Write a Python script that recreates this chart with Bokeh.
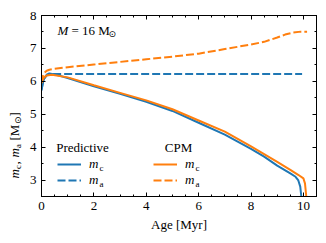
import math
from bokeh.plotting import figure
from bokeh.layouts import row
from bokeh.models import (LinearAxis, SingleIntervalTicker, Legend, LegendItem, Label, Range1d)
from bokeh.embed import file_html
from bokeh.resources import INLINE

# ---- data ----
t_pred_mc = [0.0, 0.05, 0.1, 0.2, 0.3, 0.5, 1.0, 2.0, 3.0, 4.0, 5.0, 6.0, 7.0, 8.0, 8.5, 9.0, 9.5, 9.7, 9.8, 9.88, 9.92]
pred_mc = [5.72, 5.95, 6.08, 6.2, 6.24, 6.21, 6.1, 5.85, 5.62, 5.38, 5.1, 4.74, 4.38, 3.95, 3.71, 3.44, 3.2, 3.1, 3.0, 2.8, 2.5]

t_pred_ma = [0.0, 0.05, 0.1, 0.2, 0.3, 0.4, 9.95]
pred_ma = [5.75, 5.95, 6.08, 6.18, 6.21, 6.22, 6.22]

t_cpm_mc = [0.0, 0.05, 0.1, 0.2, 0.4, 1.0, 2.0, 3.0, 4.0, 5.0, 6.0, 7.0, 8.0, 8.5, 9.0, 9.5, 9.8, 10.0, 10.06, 10.11]
cpm_mc = [5.95, 6.05, 6.12, 6.18, 6.2, 6.12, 5.88, 5.65, 5.42, 5.15, 4.81, 4.47, 4.02, 3.79, 3.55, 3.31, 3.16, 3.05, 2.9, 2.5]

t_cpm_ma = [0.0, 0.05, 0.1, 0.2, 0.3, 0.5, 1.0, 2.0, 3.0, 4.0, 5.0, 6.0, 7.0, 8.0, 8.5, 9.0, 9.3, 9.6, 9.9, 10.14]
cpm_ma = [5.95, 6.15, 6.25, 6.32, 6.35, 6.38, 6.43, 6.51, 6.59, 6.67, 6.75, 6.84, 6.98, 7.12, 7.2, 7.33, 7.42, 7.48, 7.51, 7.51]

x_ticks_interval = 2
y_ticks_interval = 1

BLUE = "#1f77b4"
ORANGE = "#ff7f0e"
FONT = "Liberation Serif"
FS = "13px"
SUB = "9px"

LW = 22  # width of the strip holding the y-axis label
TOP, BOTTOM = 15, 47

p = figure(width=326 - LW, height=243, x_range=Range1d(0, 10.5), y_range=Range1d(2.5, 8),
           output_backend="svg", toolbar_location=None,
           min_border_left=41 - LW, min_border_right=10, min_border_top=TOP, min_border_bottom=BOTTOM)
p.xgrid.visible = False
p.ygrid.visible = False
p.outline_line_color = "black"
p.background_fill_color = "white"

xt = SingleIntervalTicker(interval=x_ticks_interval, num_minor_ticks=4)
yt = SingleIntervalTicker(interval=y_ticks_interval, num_minor_ticks=2)

def style_axis(ax, labels=True):
    ax.axis_line_color = "black"
    ax.major_tick_in = 4
    ax.major_tick_out = 0
    ax.minor_tick_in = 2
    ax.minor_tick_out = 0
    ax.major_tick_line_color = "black"
    ax.minor_tick_line_color = "black"
    ax.major_label_text_font = FONT
    ax.major_label_text_color = "black"
    if labels:
        ax.major_label_text_font_size = FS
        ax.major_label_standoff = 5
    else:
        ax.major_label_text_font_size = "0px"
        ax.major_label_standoff = 0

p.xaxis.ticker = xt
p.yaxis.ticker = yt
style_axis(p.xaxis[0])
style_axis(p.yaxis[0])
p.xaxis.axis_label = "Age [Myr]"
p.xaxis.axis_label_text_font = FONT
p.xaxis.axis_label_text_font_style = "normal"
p.xaxis.axis_label_text_font_size = FS
p.xaxis.axis_label_text_color = "black"
p.xaxis.axis_label_standoff = 4

rax = LinearAxis(ticker=yt)
style_axis(rax, labels=False)
p.add_layout(rax, "right")
tax = LinearAxis(ticker=xt)
style_axis(tax, labels=False)
p.add_layout(tax, "above")

r1 = p.line(t_pred_mc, pred_mc, line_color=BLUE, line_width=2)
r2 = p.line(t_pred_ma, pred_ma, line_color=BLUE, line_width=2, line_dash="8 3")
r3 = p.line(t_cpm_mc, cpm_mc, line_color=ORANGE, line_width=2)
r4 = p.line(t_cpm_ma, cpm_ma, line_color=ORANGE, line_width=2, line_dash="8 3")

def make_legend(items, loc):
    return Legend(items=items, location=loc, orientation="vertical",
                  glyph_width=24, glyph_height=16, label_height=16, spacing=0, padding=0,
                  label_standoff=8, border_line_alpha=0, background_fill_alpha=0,
                  label_text_font=FONT, label_text_font_style="italic", label_text_font_size=FS,
                  label_text_color="black", margin=0)

p.add_layout(make_legend([LegendItem(label="m", renderers=[r1]), LegendItem(label="m", renderers=[r2])], (16, 8)))
p.add_layout(make_legend([LegendItem(label="m", renderers=[r3]), LegendItem(label="m", renderers=[r4])], (112, 8)))

def lab(fig, text, x, y, size=FS, style="normal", align="left", baseline="middle", angle=0.0, font=FONT):
    fig.add_layout(Label(x=x, y=y, x_units="screen", y_units="screen", text=text,
                         text_font=font, text_font_size=size, text_font_style=style,
                         text_align=align, text_baseline=baseline, angle=angle, text_color="black"))

# legend titles
lab(p, "Predictive", 41, 49, align="center")
lab(p, "CPM", 137, 49, align="center")
# legend subscripts (legend labels start at x = loc + 24 + 8)
for x0 in (16 + 32, 112 + 32):
    lab(p, "c", x0 + 10, 29, size=SUB)
    lab(p, "a", x0 + 10, 13, size=SUB)

# annotation M = 16 M_sun
lab(p, "M", 16, 166, style="italic")
lab(p, "= 16 M", 30, 166)
lab(p, "\u2299", 67, 163, size=SUB, font="DejaVu Sans")

# ---- y-axis label strip: same top/bottom borders as the main plot ----
lf = figure(width=LW, height=243, output_backend="svg", toolbar_location=None,
            min_border_left=0, min_border_right=0, min_border_top=TOP, min_border_bottom=BOTTOM,
            x_range=Range1d(0, 1), y_range=Range1d(0, 1))
lf.axis.visible = False
lf.grid.visible = False
lf.outline_line_color = None

ang = math.pi / 2
xb = 14
y0 = 18
parts = [("m", 0, "italic", FS, FONT, 9.5),
         ("c", 3, "normal", SUB, FONT, 4.5),
         (",", 0, "normal", FS, FONT, 7.0),
         ("m", 0, "italic", FS, FONT, 9.5),
         ("a", 3, "normal", SUB, FONT, 4.5),
         ("[M", 0, "normal", FS, FONT, 16.5),
         ("\u2299", 3, "normal", SUB, "DejaVu Sans", 7.5),
         ("]", 0, "normal", FS, FONT, 4.5)]
yy = y0
for txt, dx, st, sz, fn, w in parts:
    if txt == "[M":
        yy += 3
    lab(lf, txt, xb + dx, yy, size=sz, style=st, angle=ang, font=fn)
    yy += w

layout = row(lf, p, spacing=0)
open("out.html", "w").write(file_html(layout, INLINE))
